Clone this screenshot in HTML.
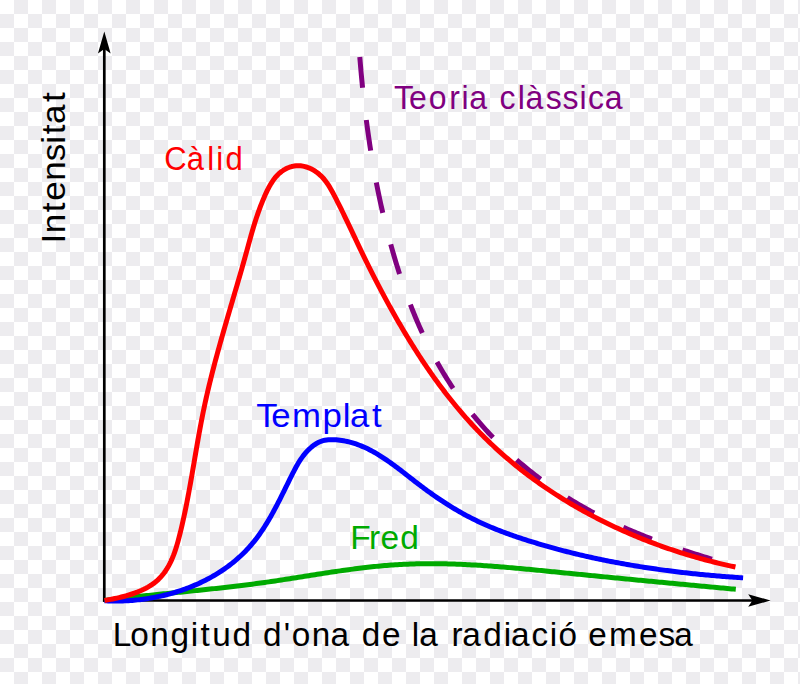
<!DOCTYPE html>
<html><head><meta charset="utf-8"><title>Radiació del cos negre</title>
<style>html,body{margin:0;padding:0;background:#fff;width:800px;height:684px;overflow:hidden}
svg{display:block}text{font-family:"Liberation Sans",sans-serif}</style></head>
<body>
<svg width="800" height="684" viewBox="0 0 800 684">
<defs><pattern id="c" width="28" height="28" patternUnits="userSpaceOnUse"><rect width="28" height="28" fill="#fff"/><rect x="14" width="14" height="14" fill="#edecef"/><rect y="14" width="14" height="14" fill="#edecef"/></pattern></defs>
<rect width="800" height="684" fill="url(#c)"/>
<path d="M104.30,601.85V46.10" stroke="#000" stroke-width="2.7" fill="none"/>
<path d="M102.95,600.50H755.40" stroke="#000" stroke-width="2.7" fill="none"/>
<path d="M104.3,31.4 L110.64999999999999,53.4 L104.3,49.1 L97.95,53.4 Z" fill="#000"/>
<path d="M770.6,600.5 L748.2,594.3 L752.4,600.5 L748.2,606.7 Z" fill="#000"/>
<path d="M104.50,600.49L106.60,600.22L108.71,599.95L110.81,599.69L112.91,599.43L115.02,599.18L117.12,598.92L119.23,598.67L121.33,598.42L123.44,598.18L125.55,597.93L127.65,597.69L129.76,597.45L131.87,597.22L133.98,596.98L136.09,596.75L138.20,596.52L140.31,596.29L142.42,596.06L144.53,595.84L146.64,595.61L148.75,595.39L150.86,595.17L152.97,594.95L155.08,594.73L157.19,594.51L159.30,594.29L161.41,594.07L163.52,593.86L165.64,593.64L167.75,593.43L169.86,593.21L171.97,593.00L174.08,592.78L176.20,592.57L178.31,592.36L180.42,592.14L182.53,591.93L184.65,591.71L186.76,591.50L188.87,591.28L190.98,591.07L193.09,590.85L195.21,590.63L197.32,590.42L199.43,590.20L201.54,589.98L203.65,589.76L205.76,589.53L207.87,589.31L209.98,589.09L212.09,588.86L214.20,588.63L216.31,588.40L218.42,588.17L220.53,587.94L222.64,587.70L224.75,587.47L226.86,587.23L228.97,586.99L231.08,586.74L233.18,586.50L235.29,586.25L237.40,586.00L239.50,585.74L241.61,585.48L243.71,585.22L245.82,584.96L247.92,584.70L250.02,584.43L252.13,584.16L254.23,583.88L256.33,583.60L258.43,583.32L260.53,583.03L262.63,582.74L264.73,582.45L266.83,582.15L268.93,581.85L271.03,581.54L273.13,581.23L275.22,580.92L277.32,580.61L279.41,580.29L281.51,579.97L283.61,579.65L285.70,579.32L287.80,578.99L289.89,578.67L291.98,578.34L294.08,578.00L296.17,577.67L298.27,577.34L300.36,577.01L302.46,576.67L304.55,576.34L306.65,576.00L308.75,575.67L310.84,575.34L312.94,575.00L315.04,574.67L317.14,574.34L319.23,574.01L321.33,573.69L323.43,573.36L325.53,573.04L327.64,572.72L329.74,572.40L331.84,572.08L333.95,571.77L336.05,571.46L338.16,571.15L340.26,570.85L342.37,570.55L344.48,570.25L346.58,569.96L348.69,569.67L350.80,569.39L352.91,569.11L355.02,568.83L357.14,568.56L359.25,568.30L361.36,568.04L363.48,567.78L365.59,567.53L367.71,567.29L369.82,567.05L371.94,566.82L374.05,566.60L376.17,566.38L378.29,566.17L380.41,565.97L382.53,565.78L384.65,565.59L386.77,565.41L388.89,565.24L391.01,565.08L393.13,564.93L395.25,564.79L397.37,564.66L399.49,564.54L401.61,564.42L403.73,564.32L405.85,564.22L407.97,564.13L410.09,564.05L412.21,563.98L414.33,563.92L416.45,563.86L418.57,563.81L420.69,563.77L422.81,563.74L424.93,563.72L427.06,563.70L429.18,563.69L431.30,563.69L433.42,563.70L435.54,563.71L437.66,563.73L439.78,563.76L441.90,563.79L444.03,563.83L446.15,563.87L448.27,563.92L450.39,563.98L452.51,564.05L454.63,564.12L456.75,564.19L458.87,564.27L461.00,564.36L463.12,564.45L465.24,564.55L467.36,564.65L469.48,564.76L471.60,564.88L473.72,564.99L475.84,565.12L477.96,565.24L480.08,565.37L482.20,565.51L484.32,565.65L486.44,565.80L488.56,565.94L490.68,566.10L492.80,566.25L494.92,566.41L497.04,566.57L499.16,566.74L501.28,566.91L503.40,567.08L505.52,567.26L507.64,567.44L509.76,567.62L511.88,567.80L514.00,567.99L516.11,568.18L518.23,568.37L520.35,568.56L522.47,568.76L524.59,568.95L526.70,569.15L528.82,569.35L530.94,569.56L533.05,569.76L535.17,569.97L537.29,570.17L539.40,570.38L541.52,570.59L543.64,570.80L545.75,571.01L547.87,571.22L549.98,571.43L552.10,571.64L554.21,571.85L556.32,572.06L558.44,572.27L560.55,572.48L562.67,572.69L564.78,572.91L566.89,573.12L569.00,573.33L571.12,573.54L573.23,573.75L575.34,573.96L577.45,574.17L579.56,574.37L581.68,574.58L583.79,574.79L585.90,575.00L588.01,575.21L590.12,575.42L592.23,575.62L594.34,575.83L596.45,576.04L598.56,576.25L600.67,576.45L602.78,576.66L604.89,576.87L607.00,577.07L609.11,577.28L611.22,577.48L613.33,577.69L615.44,577.90L617.55,578.10L619.65,578.31L621.76,578.51L623.87,578.71L625.98,578.92L628.09,579.12L630.20,579.33L632.31,579.53L634.42,579.73L636.53,579.94L638.64,580.14L640.74,580.34L642.85,580.55L644.96,580.75L647.07,580.95L649.18,581.15L651.29,581.36L653.40,581.56L655.51,581.76L657.62,581.96L659.73,582.16L661.84,582.36L663.95,582.56L666.06,582.76L668.17,582.96L670.28,583.16L672.39,583.36L674.50,583.56L676.61,583.76L678.72,583.96L680.83,584.16L682.94,584.36L685.05,584.56L687.17,584.76L689.28,584.96L691.39,585.16L693.50,585.35L695.61,585.55L697.73,585.75L699.84,585.95L701.95,586.15L704.07,586.34L706.18,586.54L708.29,586.74L710.41,586.93L712.52,587.13L714.64,587.33L716.75,587.52L718.87,587.72L720.99,587.92L723.10,588.11L725.22,588.31L727.34,588.50L729.45,588.70L731.57,588.89L733.69,589.09L735.81,589.28" stroke="#00aa00" stroke-width="5.0" fill="none" stroke-linejoin="round"/>
<path d="M104.51,600.76L106.33,600.85L108.15,600.92L109.98,600.98L111.81,601.02L113.64,601.05L115.48,601.05L117.32,601.05L119.16,601.02L121.01,600.98L122.86,600.92L124.70,600.85L126.56,600.76L128.41,600.65L130.26,600.53L132.11,600.39L133.97,600.23L135.82,600.06L137.68,599.87L139.53,599.66L141.39,599.44L143.24,599.20L145.09,598.94L146.94,598.67L148.79,598.38L150.64,598.07L152.48,597.75L154.33,597.41L156.17,597.05L158.00,596.67L159.84,596.28L161.67,595.88L163.49,595.45L165.32,595.01L167.14,594.55L168.95,594.08L170.76,593.59L172.56,593.08L174.36,592.55L176.15,592.01L177.94,591.45L179.72,590.87L181.50,590.28L183.27,589.67L185.03,589.04L186.78,588.40L188.53,587.73L190.27,587.06L192.00,586.36L193.72,585.65L195.44,584.92L197.14,584.17L198.84,583.41L200.52,582.63L202.20,581.83L203.87,581.01L205.53,580.18L207.17,579.33L208.81,578.46L210.44,577.58L212.05,576.68L213.65,575.76L215.25,574.82L216.83,573.87L218.39,572.90L219.95,571.91L221.49,570.90L223.02,569.88L224.54,568.84L226.04,567.79L227.53,566.71L229.00,565.62L230.46,564.51L231.91,563.38L233.34,562.24L234.75,561.08L236.15,559.90L237.54,558.70L238.91,557.49L240.26,556.26L241.59,555.01L242.91,553.74L244.21,552.46L245.50,551.15L246.77,549.83L248.02,548.50L249.25,547.14L250.46,545.77L251.66,544.38L252.83,542.97L253.99,541.55L255.13,540.11L256.25,538.65L257.36,537.18L258.45,535.70L259.53,534.20L260.59,532.68L261.63,531.15L262.67,529.61L263.68,528.06L264.69,526.50L265.68,524.92L266.66,523.33L267.63,521.73L268.59,520.13L269.54,518.51L270.47,516.89L271.40,515.25L272.32,513.61L273.23,511.96L274.13,510.31L275.02,508.65L275.90,506.98L276.78,505.31L277.66,503.63L278.52,501.95L279.38,500.26L280.24,498.57L281.09,496.88L281.94,495.19L282.78,493.49L283.62,491.79L284.46,490.10L285.30,488.40L286.14,486.70L286.97,485.00L287.80,483.31L288.64,481.61L289.47,479.92L290.31,478.23L291.14,476.55L291.98,474.86L292.83,473.19L293.68,471.52L294.54,469.86L295.41,468.21L296.31,466.57L297.22,464.94L298.17,463.33L299.14,461.74L300.14,460.17L301.18,458.62L302.27,457.10L303.39,455.60L304.57,454.12L305.79,452.68L307.07,451.27L308.41,449.88L309.81,448.54L311.27,447.25L312.78,446.02L314.35,444.86L315.97,443.79L317.64,442.83L319.36,441.98L321.12,441.26L322.93,440.68L324.77,440.25L326.64,439.94L328.53,439.74L330.44,439.65L332.35,439.64L334.26,439.71L336.16,439.83L338.04,440.00L339.91,440.22L341.76,440.47L343.59,440.77L345.41,441.12L347.21,441.50L348.99,441.92L350.76,442.38L352.52,442.87L354.26,443.41L355.99,443.98L357.70,444.58L359.41,445.22L361.10,445.88L362.77,446.58L364.44,447.31L366.09,448.07L367.74,448.86L369.37,449.67L370.99,450.51L372.60,451.38L374.21,452.27L375.80,453.18L377.39,454.12L378.96,455.07L380.53,456.05L382.09,457.04L383.64,458.05L385.19,459.08L386.73,460.13L388.26,461.19L389.79,462.26L391.32,463.35L392.83,464.45L394.35,465.56L395.85,466.68L397.36,467.80L398.86,468.94L400.36,470.08L401.85,471.23L403.35,472.38L404.84,473.54L406.33,474.70L407.81,475.86L409.30,477.02L410.79,478.18L412.27,479.34L413.76,480.50L415.25,481.65L416.74,482.80L418.23,483.94L419.72,485.08L421.21,486.21L422.71,487.33L424.21,488.44L425.71,489.55L427.21,490.65L428.71,491.74L430.22,492.82L431.73,493.90L433.25,494.97L434.77,496.02L436.29,497.08L437.81,498.12L439.34,499.15L440.88,500.18L442.41,501.19L443.95,502.20L445.50,503.20L447.05,504.19L448.60,505.17L450.16,506.14L451.72,507.10L453.29,508.05L454.87,509.00L456.45,509.93L458.03,510.86L459.62,511.77L461.21,512.67L462.82,513.57L464.42,514.45L466.03,515.33L467.65,516.19L469.28,517.05L470.91,517.89L472.55,518.72L474.19,519.55L475.85,520.36L477.51,521.16L479.17,521.95L480.84,522.73L482.52,523.50L484.21,524.26L485.90,525.01L487.60,525.75L489.30,526.48L491.01,527.20L492.72,527.91L494.44,528.62L496.17,529.31L497.89,530.00L499.63,530.67L501.36,531.34L503.11,532.00L504.85,532.66L506.60,533.30L508.35,533.94L510.11,534.57L511.87,535.19L513.63,535.81L515.40,536.42L517.17,537.02L518.94,537.62L520.71,538.21L522.49,538.79L524.26,539.37L526.04,539.94L527.82,540.51L529.60,541.07L531.39,541.62L533.17,542.18L534.95,542.72L536.74,543.26L538.53,543.80L540.31,544.33L542.10,544.86L543.89,545.38L545.68,545.89L547.47,546.41L549.26,546.91L551.05,547.41L552.85,547.91L554.64,548.40L556.44,548.89L558.23,549.37L560.03,549.85L561.82,550.33L563.62,550.80L565.42,551.26L567.22,551.72L569.02,552.18L570.82,552.63L572.63,553.07L574.43,553.52L576.23,553.95L578.04,554.39L579.84,554.81L581.65,555.24L583.46,555.66L585.26,556.07L587.07,556.48L588.88,556.89L590.69,557.29L592.50,557.69L594.31,558.09L596.13,558.47L597.94,558.86L599.75,559.24L601.57,559.62L603.38,559.99L605.20,560.36L607.02,560.73L608.83,561.09L610.65,561.44L612.47,561.79L614.29,562.14L616.11,562.49L617.93,562.83L619.75,563.16L621.57,563.50L623.40,563.83L625.22,564.15L627.04,564.47L628.87,564.79L630.69,565.10L632.52,565.41L634.35,565.72L636.18,566.02L638.00,566.32L639.83,566.61L641.66,566.90L643.49,567.19L645.32,567.48L647.15,567.76L648.99,568.03L650.82,568.30L652.65,568.57L654.48,568.84L656.32,569.10L658.15,569.36L659.99,569.62L661.82,569.87L663.66,570.12L665.50,570.36L667.34,570.60L669.17,570.84L671.01,571.08L672.85,571.31L674.69,571.54L676.53,571.76L678.37,571.98L680.21,572.20L682.06,572.42L683.90,572.63L685.74,572.84L687.59,573.05L689.43,573.25L691.27,573.45L693.12,573.65L694.97,573.84L696.81,574.03L698.66,574.22L700.51,574.40L702.35,574.58L704.20,574.76L706.05,574.94L707.90,575.11L709.75,575.28L711.60,575.45L713.45,575.61L715.30,575.78L717.15,575.94L719.00,576.09L720.85,576.25L722.71,576.40L724.56,576.54L726.41,576.69L728.26,576.83L730.12,576.97L731.97,577.11L733.83,577.25L735.68,577.38L737.54,577.51L739.40,577.63L741.25,577.76L743.11,577.88" stroke="#0000ff" stroke-width="5.0" fill="none" stroke-linejoin="round"/>
<path d="M359.80,56.99L359.98,59.30L360.17,61.61L360.37,63.92L360.56,66.23L360.77,68.53L360.97,70.84L361.18,73.14L361.39,75.44L361.60,77.75L361.82,80.05L362.05,82.35L362.27,84.65L362.50,86.94L362.74,89.24L362.98,91.53L363.22,93.83L363.47,96.12L363.72,98.41L363.98,100.70L364.24,102.99L364.50,105.28L364.77,107.57L365.04,109.85L365.32,112.14L365.60,114.42L365.88,116.70L366.18,118.99L366.47,121.27L366.77,123.55L367.07,125.82L367.38,128.10L367.70,130.38L368.02,132.65L368.34,134.93L368.67,137.20L369.00,139.47L369.34,141.74L369.68,144.01L370.03,146.28L370.38,148.55L370.74,150.82L371.11,153.08L371.47,155.35L371.85,157.61L372.23,159.87L372.61,162.14L373.00,164.40L373.40,166.66L373.80,168.92L374.20,171.17L374.62,173.43L375.03,175.69L375.46,177.94L375.88,180.19L376.32,182.45L376.76,184.70L377.21,186.95L377.66,189.20L378.11,191.45L378.58,193.70L379.05,195.94L379.52,198.19L380.00,200.43L380.49,202.68L380.98,204.92L381.48,207.16L381.99,209.40L382.50,211.65L383.02,213.88L383.55,216.12L384.08,218.36L384.61,220.60L385.16,222.83L385.71,225.07L386.27,227.30L386.83,229.53L387.40,231.77L387.98,234.00L388.56,236.23L389.15,238.46L389.75,240.68L390.35,242.91L390.96,245.14L391.58,247.36L392.21,249.59L392.84,251.81L393.48,254.04L394.12,256.26L394.78,258.48L395.44,260.69L396.11,262.91L396.78,265.12L397.47,267.34L398.16,269.55L398.86,271.75L399.57,273.96L400.28,276.16L401.01,278.36L401.74,280.56L402.48,282.76L403.23,284.95L403.98,287.14L404.75,289.32L405.52,291.51L406.31,293.69L407.10,295.86L407.90,298.04L408.71,300.21L409.53,302.37L410.35,304.53L411.19,306.69L412.04,308.85L412.89,310.99L413.76,313.14L414.63,315.28L415.52,317.42L416.41,319.55L417.31,321.67L418.23,323.80L419.15,325.91L420.09,328.02L421.03,330.13L421.98,332.23L422.95,334.33L423.92,336.42L424.91,338.50L425.90,340.58L426.91,342.65L427.93,344.72L428.96,346.78L430.00,348.83L431.05,350.88L432.11,352.92L433.18,354.96L434.26,356.99L435.36,359.01L436.46,361.02L437.58,363.03L438.71,365.03L439.85,367.02L441.01,369.01L442.17,370.99L443.35,372.96L444.54,374.92L445.74,376.87L446.95,378.82L448.17,380.76L449.41,382.69L450.66,384.61L451.92,386.53L453.20,388.43L454.49,390.33L455.79,392.22L457.10,394.10L458.43,395.97L459.76,397.83L461.11,399.68L462.48,401.53L463.85,403.36L465.24,405.19L466.63,407.01L468.04,408.82L469.47,410.61L470.90,412.41L472.34,414.19L473.80,415.96L475.27,417.72L476.75,419.48L478.24,421.22L479.74,422.96L481.25,424.69L482.77,426.41L484.31,428.11L485.85,429.81L487.41,431.50L488.97,433.18L490.55,434.86L492.14,436.52L493.74,438.17L495.34,439.81L496.96,441.45L498.59,443.07L500.23,444.68L501.88,446.29L503.53,447.88L505.20,449.47L506.88,451.04L508.57,452.61L510.26,454.16L511.97,455.71L513.68,457.25L515.41,458.77L517.14,460.29L518.89,461.79L520.64,463.29L522.40,464.78L524.17,466.25L525.94,467.72L527.73,469.18L529.53,470.62L531.33,472.06L533.14,473.48L534.96,474.90L536.79,476.30L538.63,477.70L540.47,479.08L542.33,480.46L544.19,481.82L546.06,483.18L547.93,484.52L549.82,485.85L551.71,487.17L553.61,488.48L555.51,489.79L557.43,491.08L559.35,492.36L561.27,493.62L563.21,494.88L565.15,496.13L567.10,497.37L569.05,498.59L571.02,499.81L572.98,501.01L574.96,502.21L576.94,503.39L578.93,504.56L580.92,505.72L582.92,506.87L584.93,508.01L586.94,509.14L588.96,510.25L590.98,511.36L593.01,512.45L595.05,513.53L597.09,514.61L599.13,515.67L601.18,516.72L603.24,517.75L605.30,518.78L607.37,519.80L609.44,520.81L611.52,521.80L613.60,522.79L615.69,523.77L617.78,524.74L619.87,525.69L621.97,526.64L624.08,527.58L626.19,528.51L628.30,529.43L630.42,530.34L632.54,531.24L634.66,532.13L636.79,533.01L638.92,533.89L641.06,534.76L643.20,535.61L645.34,536.46L647.49,537.31L649.64,538.14L651.79,538.97L653.94,539.78L656.10,540.60L658.26,541.40L660.43,542.20L662.59,542.98L664.76,543.77L666.93,544.54L669.11,545.31L671.28,546.07L673.46,546.83L675.64,547.57L677.82,548.32L680.01,549.05L682.19,549.78L684.38,550.51L686.57,551.23L688.76,551.94L690.95,552.65L693.15,553.35L695.34,554.04L697.54,554.74L699.74,555.42L701.93,556.10L704.13,556.78L706.33,557.45L708.53,558.12L710.73,558.78L712.93,559.44L715.14,560.10L717.34,560.75L719.54,561.40L721.74,562.04L723.95,562.68L726.15,563.32L728.35,563.95L730.55,564.58L732.75,565.21L734.96,565.83" stroke="#800080" stroke-width="5.0" fill="none" stroke-linejoin="round" stroke-dasharray="30.9 32.48" stroke-dashoffset="0"/>
<path d="M104.52,600.49L106.45,600.15L108.44,599.80L110.49,599.41L112.59,599.00L114.73,598.56L116.92,598.09L119.13,597.58L121.38,597.04L123.64,596.47L125.91,595.85L128.19,595.19L130.47,594.49L132.74,593.75L135.00,592.96L137.23,592.12L139.45,591.22L141.63,590.28L143.77,589.28L145.86,588.23L147.90,587.11L149.89,585.94L151.80,584.70L153.65,583.40L155.42,582.03L157.11,580.60L158.71,579.10L160.24,577.54L161.70,575.92L163.08,574.24L164.40,572.51L165.65,570.72L166.84,568.89L167.97,567.02L169.04,565.10L170.05,563.14L171.02,561.14L171.94,559.11L172.81,557.04L173.64,554.95L174.42,552.82L175.18,550.68L175.89,548.51L176.58,546.33L177.23,544.13L177.87,541.91L178.47,539.68L179.06,537.45L179.63,535.21L180.19,532.97L180.74,530.73L181.27,528.49L181.80,526.25L182.31,524.02L182.82,521.78L183.32,519.55L183.81,517.32L184.29,515.09L184.76,512.86L185.22,510.63L185.68,508.40L186.13,506.17L186.58,503.95L187.02,501.72L187.45,499.50L187.88,497.28L188.30,495.06L188.71,492.84L189.12,490.62L189.53,488.40L189.93,486.18L190.33,483.97L190.73,481.75L191.12,479.54L191.51,477.32L191.90,475.11L192.28,472.90L192.66,470.68L193.04,468.47L193.42,466.26L193.80,464.05L194.18,461.84L194.56,459.64L194.93,457.43L195.31,455.22L195.69,453.01L196.07,450.81L196.45,448.60L196.83,446.39L197.21,444.19L197.60,441.98L197.98,439.78L198.37,437.57L198.77,435.37L199.16,433.17L199.56,430.96L199.97,428.76L200.38,426.55L200.79,424.35L201.21,422.15L201.63,419.94L202.06,417.74L202.50,415.54L202.94,413.33L203.38,411.13L203.84,408.93L204.30,406.72L204.77,404.52L205.24,402.31L205.73,400.11L206.22,397.91L206.71,395.70L207.22,393.50L207.73,391.29L208.25,389.09L208.77,386.89L209.30,384.68L209.83,382.48L210.37,380.28L210.92,378.07L211.47,375.87L212.03,373.67L212.59,371.47L213.16,369.27L213.73,367.07L214.30,364.87L214.88,362.67L215.47,360.47L216.06,358.27L216.65,356.07L217.25,353.88L217.85,351.68L218.45,349.48L219.05,347.29L219.66,345.10L220.28,342.90L220.89,340.71L221.51,338.52L222.13,336.33L222.75,334.14L223.38,331.96L224.00,329.77L224.63,327.58L225.26,325.40L225.89,323.22L226.53,321.04L227.16,318.86L227.79,316.68L228.43,314.50L229.06,312.33L229.70,310.15L230.34,307.98L230.97,305.81L231.61,303.64L232.25,301.47L232.88,299.31L233.52,297.14L234.15,294.98L234.79,292.82L235.42,290.66L236.05,288.50L236.68,286.35L237.31,284.20L237.94,282.05L238.56,279.90L239.19,277.75L239.81,275.61L240.43,273.46L241.04,271.32L241.66,269.18L242.27,267.05L242.87,264.92L243.48,262.78L244.08,260.66L244.68,258.53L245.27,256.41L245.86,254.28L246.45,252.17L247.03,250.05L247.61,247.94L248.19,245.82L248.77,243.71L249.35,241.60L249.93,239.49L250.52,237.38L251.11,235.27L251.71,233.16L252.32,231.05L252.94,228.94L253.57,226.82L254.22,224.70L254.87,222.58L255.55,220.46L256.24,218.33L256.95,216.20L257.68,214.07L258.43,211.92L259.20,209.78L259.99,207.63L260.82,205.47L261.67,203.31L262.54,201.13L263.45,198.96L264.39,196.77L265.36,194.58L266.36,192.38L267.41,190.20L268.51,188.04L269.66,185.91L270.88,183.83L272.16,181.81L273.51,179.85L274.93,177.98L276.45,176.19L278.05,174.51L279.74,172.95L281.54,171.51L283.44,170.21L285.42,169.05L287.47,168.05L289.58,167.21L291.75,166.55L293.95,166.07L296.17,165.78L298.40,165.69L300.63,165.80L302.85,166.11L305.05,166.59L307.23,167.26L309.37,168.08L311.46,169.06L313.51,170.17L315.48,171.42L317.39,172.79L319.22,174.28L320.95,175.86L322.59,177.53L324.14,179.28L325.59,181.11L326.97,183.00L328.28,184.93L329.52,186.92L330.72,188.94L331.87,190.98L332.98,193.04L334.08,195.11L335.15,197.17L336.21,199.23L337.26,201.29L338.30,203.34L339.32,205.38L340.34,207.42L341.35,209.46L342.34,211.49L343.34,213.52L344.32,215.54L345.29,217.57L346.26,219.58L347.23,221.60L348.19,223.61L349.14,225.62L350.10,227.63L351.05,229.63L351.99,231.63L352.94,233.64L353.88,235.64L354.83,237.64L355.77,239.63L356.72,241.63L357.66,243.63L358.61,245.63L359.56,247.63L360.52,249.62L361.48,251.62L362.44,253.62L363.41,255.62L364.38,257.63L365.36,259.63L366.35,261.63L367.34,263.63L368.33,265.64L369.33,267.64L370.33,269.64L371.34,271.65L372.35,273.65L373.37,275.65L374.40,277.66L375.42,279.66L376.46,281.66L377.50,283.66L378.54,285.66L379.59,287.66L380.64,289.66L381.70,291.66L382.76,293.65L383.83,295.65L384.90,297.64L385.98,299.63L387.06,301.62L388.15,303.61L389.24,305.60L390.34,307.58L391.44,309.56L392.55,311.54L393.66,313.52L394.78,315.50L395.90,317.47L397.03,319.44L398.16,321.41L399.30,323.37L400.44,325.33L401.59,327.29L402.74,329.24L403.90,331.20L405.07,333.15L406.24,335.09L407.42,337.03L408.60,338.97L409.79,340.90L410.98,342.84L412.18,344.76L413.39,346.69L414.60,348.60L415.82,350.52L417.05,352.43L418.28,354.33L419.52,356.24L420.76,358.13L422.01,360.03L423.27,361.91L424.53,363.80L425.80,365.67L427.08,367.55L428.36,369.41L429.65,371.28L430.95,373.13L432.25,374.98L433.56,376.83L434.88,378.67L436.20,380.50L437.53,382.33L438.87,384.15L440.22,385.97L441.57,387.78L442.93,389.59L444.30,391.38L445.68,393.18L447.06,394.96L448.45,396.74L449.85,398.51L451.25,400.28L452.67,402.03L454.09,403.78L455.52,405.53L456.95,407.26L458.40,408.99L459.85,410.72L461.31,412.43L462.78,414.14L464.26,415.84L465.75,417.53L467.24,419.21L468.74,420.89L470.25,422.55L471.77,424.21L473.30,425.86L474.84,427.51L476.38,429.14L477.94,430.77L479.50,432.38L481.07,433.99L482.65,435.59L484.24,437.18L485.84,438.76L487.44,440.34L489.06,441.90L490.68,443.45L492.31,445.00L493.96,446.54L495.60,448.07L497.26,449.59L498.93,451.10L500.60,452.60L502.28,454.09L503.98,455.57L505.67,457.05L507.38,458.51L509.09,459.97L510.82,461.42L512.55,462.86L514.28,464.29L516.03,465.71L517.78,467.12L519.54,468.53L521.31,469.92L523.08,471.31L524.87,472.69L526.66,474.05L528.45,475.41L530.26,476.76L532.07,478.11L533.89,479.44L535.71,480.76L537.54,482.08L539.38,483.38L541.23,484.68L543.08,485.97L544.94,487.25L546.80,488.52L548.67,489.78L550.55,491.03L552.44,492.28L554.33,493.51L556.22,494.74L558.13,495.96L560.03,497.17L561.95,498.37L563.87,499.56L565.80,500.74L567.73,501.91L569.67,503.07L571.61,504.23L573.56,505.38L575.52,506.51L577.48,507.64L579.44,508.76L581.42,509.87L583.39,510.98L585.37,512.07L587.36,513.15L589.35,514.23L591.35,515.29L593.35,516.35L595.36,517.40L597.37,518.44L599.39,519.47L601.41,520.49L603.44,521.51L605.47,522.51L607.50,523.51L609.54,524.49L611.59,525.47L613.64,526.44L615.69,527.40L617.75,528.35L619.81,529.29L621.87,530.23L623.94,531.15L626.01,532.07L628.09,532.98L630.17,533.87L632.26,534.76L634.35,535.64L636.44,536.51L638.53,537.38L640.63,538.23L642.73,539.08L644.84,539.91L646.95,540.74L649.06,541.56L651.18,542.37L653.30,543.17L655.42,543.96L657.54,544.74L659.67,545.52L661.80,546.28L663.93,547.04L666.07,547.78L668.21,548.52L670.35,549.25L672.49,549.97L674.64,550.69L676.79,551.39L678.94,552.08L681.09,552.77L683.24,553.45L685.40,554.11L687.56,554.77L689.72,555.42L691.89,556.06L694.05,556.70L696.22,557.32L698.39,557.93L700.56,558.54L702.73,559.14L704.90,559.72L707.08,560.30L709.25,560.87L711.43,561.43L713.61,561.99L715.79,562.53L717.97,563.07L720.16,563.59L722.34,564.11L724.52,564.62L726.71,565.12L728.90,565.61L731.08,566.09L733.27,566.56L735.46,567.03" stroke="#ff0000" stroke-width="5.0" fill="none" stroke-linejoin="round"/>
<text transform="scale(0.9423,1)" x="418.11 434.15 454.93 476.78 489.68 497.86 503.17 530.21 549.37 557.57 579.26 596.95 615.02 623.94 641.87" y="108.90" font-size="34" fill="#800080">Teoria clàssica</text>
<text transform="scale(0.9124,1)" x="179.97 204.71 227.26 237.03 247.09" y="169.90" font-size="34" fill="#ff0000">Càlid</text>
<text transform="scale(1.0223,1)" x="250.57 265.43 285.62 315.60 335.38 342.44 364.01" y="426.60" font-size="34" fill="#0000ff">Templat</text>
<text transform="scale(0.9850,1)" x="355.51 374.59 386.19 406.23" y="548.60" font-size="34" fill="#00aa00">Fred</text>
<text transform="scale(0.9800,1)" x="115.19 133.02 153.42 173.86 194.66 204.55 216.58 237.16 242.26 268.27 289.53 297.81 318.21 337.27 342.37 369.04 389.71 394.81 420.29 427.93 433.03 460.68 471.74 493.13 513.93 521.55 542.33 560.96 569.80 574.91 600.27 621.54 652.17 671.84 687.95" y="645.60" font-size="34" fill="#000">Longitud d&#x27;ona de la radiació emesa</text>
<text transform="translate(65.00,240.10) rotate(-90) scale(1.0288,1)" x="-3.19 6.59 27.12 38.21 57.64 76.71 93.65 103.02 112.80 134.27" y="0" font-size="34" fill="#000">Intensitat</text>
</svg>
</body></html>
